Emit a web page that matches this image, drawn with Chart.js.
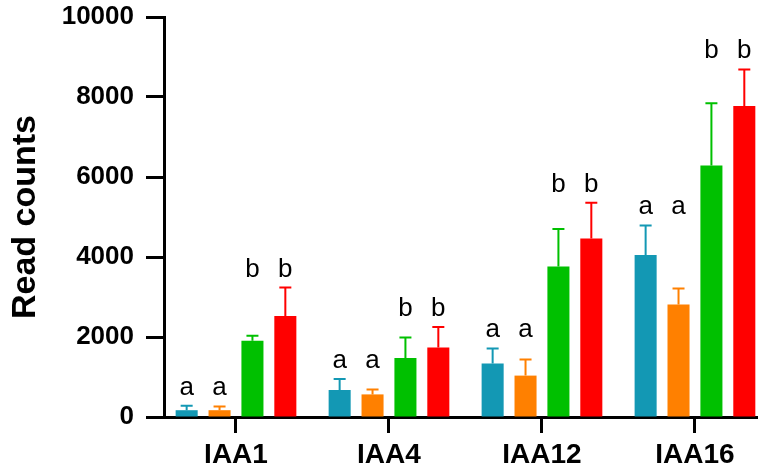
<!DOCTYPE html>
<html>
<head>
<meta charset="utf-8">
<script src="https://cdn.jsdelivr.net/npm/chart.js@4.4.1/dist/chart.umd.min.js"></script>
<style>
    html, body { margin: 0; padding: 0; background: #fff; overflow: hidden; }
    canvas { display: block; }
</style>
</head>
<body>
<canvas id="chart" width="758" height="473"></canvas>
<script>
// --- Data ---
const genes = ["IAA1", "IAA4", "IAA12", "IAA16"];
const yTicks = [0, 2000, 4000, 6000, 8000, 10000];

const blueMeans = [170, 675, 1340, 4050];
const blueSD = [110, 275, 375, 740];
const orangeMeans = [170, 565, 1035, 2815];
const orangeSD = [90, 120, 405, 395];
const greenMeans = [1905, 1475, 3760, 6285];
const greenSD = [125, 510, 940, 1560];
const redMeans = [2525, 1735, 4465, 7775];
const redSD = [710, 515, 890, 915];

// significance letters, one per gene
const blueLetters = ["a", "a", "a", "a"];
const orangeLetters = ["a", "a", "a", "a"];
const greenLetters = ["b", "b", "b", "b"];
const redLetters = ["b", "b", "b", "b"];

const FONT = "'Liberation Sans', Arial, Helvetica, sans-serif";

function makeSeries(means, sd, letters, color) {
    return {
        data: means.map((v, i) => ({ x: i, y: v })),
        sd: sd,
        letters: letters,
        backgroundColor: color,
        borderWidth: 0,
        categoryPercentage: 0.86,
        barPercentage: 0.67
    };
}

// --- Plugins: error bars (upper only) and letters ---
const errorBars = {
    id: 'errorBars',
    afterDatasetsDraw(chart) {
        const ctx = chart.ctx;
        const yScale = chart.scales.y;
        chart.data.datasets.forEach((ds, d) => {
            const meta = chart.getDatasetMeta(d);
            meta.data.forEach((bar, i) => {
                const top = yScale.getPixelForValue(ds.data[i].y + ds.sd[i]);
                ctx.save();
                ctx.strokeStyle = ds.backgroundColor;
                ctx.lineWidth = 2;
                ctx.beginPath();
                ctx.moveTo(bar.x, bar.y);
                ctx.lineTo(bar.x, top);
                ctx.moveTo(bar.x - 6, top);
                ctx.lineTo(bar.x + 6, top);
                ctx.stroke();
                ctx.restore();
            });
        });
    }
};

const letterLabels = {
    id: 'letterLabels',
    afterDatasetsDraw(chart) {
        const ctx = chart.ctx;
        const yScale = chart.scales.y;
        const sets = chart.data.datasets;
        ctx.save();
        ctx.fillStyle = '#000';
        ctx.font = `26px ${FONT}`;
        ctx.textAlign = 'center';
        ctx.textBaseline = 'alphabetic';
        genes.forEach((g, i) => {
            sets.forEach((ds, d) => {
                const letter = ds.letters[i];
                // same letters in a group sit at one height, above the tallest error bar
                let top = 0;
                sets.forEach(other => {
                    if (other.letters[i] === letter) {
                        top = Math.max(top, other.data[i].y + other.sd[i]);
                    }
                });
                const bar = chart.getDatasetMeta(d).data[i];
                ctx.fillText(letter, bar.x, yScale.getPixelForValue(top) - 11);
            });
        });
        ctx.restore();
    }
};

const chart = new Chart(document.getElementById('chart'), {
    type: 'bar',
    data: {
        datasets: [
            makeSeries(blueMeans, blueSD, blueLetters, '#1398b4'),
            makeSeries(orangeMeans, orangeSD, orangeLetters, '#ff8000'),
            makeSeries(greenMeans, greenSD, greenLetters, '#00c000'),
            makeSeries(redMeans, redSD, redLetters, '#ff0000')
        ]
    },
    options: {
        responsive: false,
        animation: false,
        layout: { padding: { top: 17, right: 0, bottom: 0, left: 0 } },
        plugins: {
            legend: { display: false },
            tooltip: { enabled: false }
        },
        scales: {
            x: {
                type: 'linear',
                min: -0.4706,
                max: 3.412,
                offset: false,
                afterBuildTicks: s => { s.ticks = genes.map((g, i) => ({ value: i })); },
                afterFit: s => { s.height = 56; },
                border: { display: true, color: '#000', width: 3 },
                grid: { offset: false, drawOnChartArea: false, drawTicks: true, tickLength: 16, tickWidth: 3, tickColor: '#000' },
                ticks: {
                    autoSkip: false,
                    maxRotation: 0,
                    color: '#000',
                    padding: 5,
                    font: { family: FONT, size: 28, weight: 'bold' },
                    callback: v => genes[v]
                }
            },
            y: {
                min: 0,
                max: 10000,
                afterBuildTicks: s => { s.ticks = yTicks.map(v => ({ value: v })); },
                afterFit: s => {
                    s.width = 164;
                    s.paddingTop = 0;
                    s.paddingBottom = 0;
                },
                border: { display: true, color: '#000', width: 3 },
                grid: { drawOnChartArea: false, drawTicks: true, tickLength: 18, tickWidth: 3, tickColor: '#000' },
                ticks: {
                    color: '#000',
                    padding: 12,
                    font: { family: FONT, size: 26, weight: 'bold' },
                    callback: v => String(v)
                },
                title: {
                    display: true,
                    text: 'Read counts',
                    color: '#000',
                    font: { family: FONT, size: 34, weight: 'bold' },
                    padding: { top: 5, bottom: 0 }
                }
            }
        }
    },
    plugins: [errorBars, letterLabels]
});
</script>
</body>
</html>
